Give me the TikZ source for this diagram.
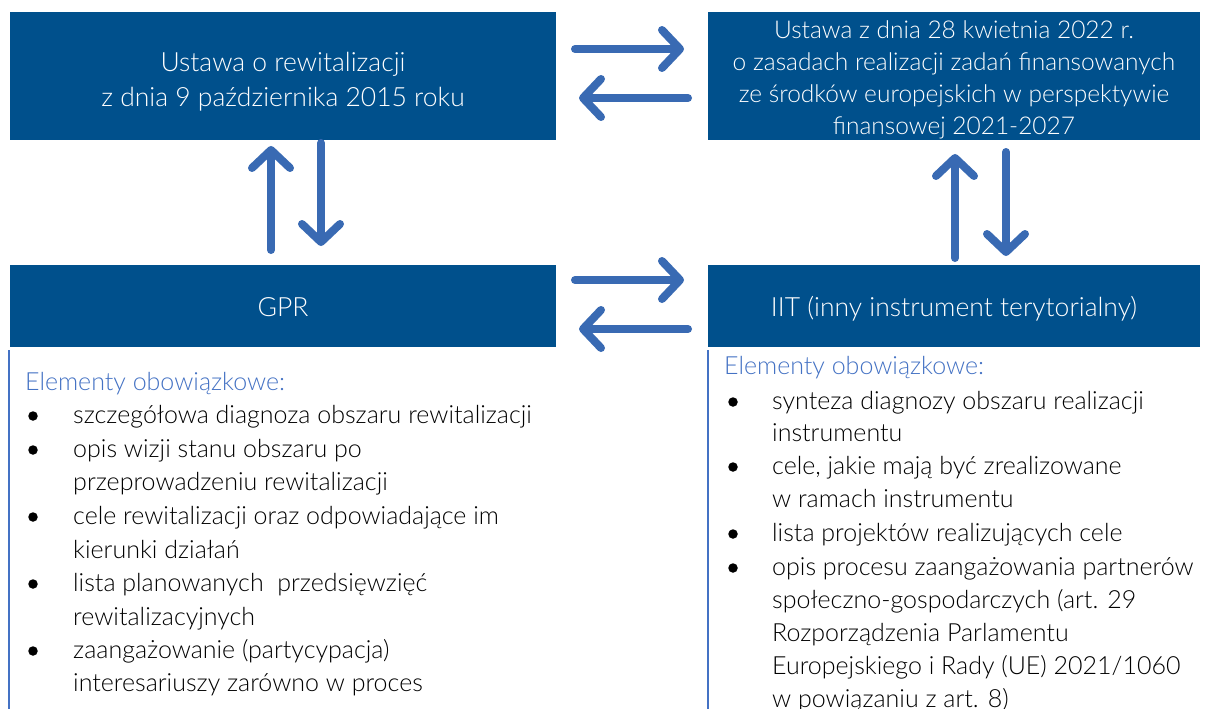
\documentclass[tikz,border=0pt]{standalone}
\usepackage{fontspec}
\setmainfont{Lato Light}
\usetikzlibrary{arrows.meta,calc}
\definecolor{boxblue}{HTML}{00508C}
\definecolor{arrblue}{HTML}{396AB3}
\definecolor{lineblue}{HTML}{4472C4}
\newcommand{\boxtext}[2]{\raisebox{#1}[\height][\depth]{\begin{tabular}{@{}c@{}}#2\end{tabular}}}
\begin{document}
\begin{tikzpicture}[x=1pt,y=-1pt,
  box/.style={fill=boxblue, draw=none, text=white, align=center, inner sep=0pt},
  arr/.style={draw=arrblue, line width=8pt, line cap=round, line join=round,
     -{Straight Barb[round,length=18pt,width=38pt]}},
  lst/.style={anchor=mid west, inner sep=0pt, yshift=-5pt, font=\fontsize{25}{25}\selectfont},
  hd/.style={lst, text=lineblue},
  bul/.style={circle, fill=black, inner sep=0pt, minimum size=9.5pt},
  edge/.style={draw=lineblue, line width=2pt}]
\clip (0,0) rectangle (1208,709);
\fill[white] (0,0) rectangle (1208,709);
% boxes
\node[box, minimum width=546pt, minimum height=128pt, font=\fontsize{26.5}{35}\selectfont] (tl) at (283,76)
  {\boxtext{-6pt}{Ustawa o rewitalizacji\\z dnia 9 października 2015 roku}};
\node[box, minimum width=492pt, minimum height=128pt, font=\fontsize{24.5}{32}\selectfont] (tr) at (954,76)
  {\boxtext{-4pt}{Ustawa z dnia 28 kwietnia 2022 r.\\o zasadach realizacji zadań finansowanych\\ze środków europejskich w perspektywie\\finansowej 2021-2027}};
\node[box, minimum width=546pt, minimum height=82pt, font=\fontsize{26.5}{30}\selectfont] (bl) at (283,306) {\boxtext{-4pt}{GPR}};
\node[box, minimum width=492pt, minimum height=82pt, font=\fontsize{26.5}{30}\selectfont] (br) at (954,306) {\boxtext{-4pt}{IIT (inny instrument terytorialny)}};
% arrow end coordinates
\coordinate (a1s) at (575,49);  \coordinate (a1e) at (684,49);
\coordinate (a2s) at (688,98);  \coordinate (a2e) at (579,98);
\coordinate (a3s) at (575,280); \coordinate (a3e) at (684,280);
\coordinate (a4s) at (688,329); \coordinate (a4e) at (579,329);
\coordinate (v1s) at (271,250); \coordinate (v1e) at (271,146);
\coordinate (v2s) at (321,143); \coordinate (v2e) at (321,246);
\coordinate (v3s) at (955,258); \coordinate (v3e) at (955,154);
\coordinate (v4s) at (1006,152); \coordinate (v4e) at (1006,256);
\draw[arr] (a1s) -- (a1e);
\draw[arr] (a2s) -- (a2e);
\draw[arr] (a3s) -- (a3e);
\draw[arr] (a4s) -- (a4e);
\draw[arr] (v1s) -- (v1e);
\draw[arr] (v2s) -- (v2e);
\draw[arr] (v3s) -- (v3e);
\draw[arr] (v4s) -- (v4e);
% panel edges
\coordinate (le1) at (9,350); \coordinate (le2) at (9,712);
\coordinate (re1) at (708,350); \coordinate (re2) at (708,712);
\draw[edge] (le1) -- (le2);
\draw[edge] (re1) -- (re2);
% left list
\node[hd] (lh) at (25,383) {Elementy obowiązkowe:};
\node[bul] (lb1) at (33,416) {};
\node[lst] (l1) at (73,416) {szczegółowa diagnoza obszaru rewitalizacji};
\node[bul] (lb2) at (33,450) {};
\node[lst] (l2) at (73,450) {opis wizji stanu obszaru po};
\node[lst] (l2b) at (73,483) {przeprowadzeniu rewitalizacji};
\node[bul] (lb3) at (33,517) {};
\node[lst] (l3) at (73,517) {cele rewitalizacji oraz odpowiadające im};
\node[lst] (l3b) at (73,551) {kierunki działań};
\node[bul] (lb4) at (33,584) {};
\node[lst] (l4) at (73,584) {lista planowanych\ \ przedsięwzięć};
\node[lst] (l4b) at (73,618) {rewitalizacyjnych};
\node[bul] (lb5) at (33,651) {};
\node[lst] (l5) at (73,651) {zaangażowanie (partycypacja)};
\node[lst] (l5b) at (73,684) {interesariuszy zarówno w proces};
% right list
\node[hd] (rh) at (724,367) {Elementy obowiązkowe:};
\node[bul] (rb1) at (733,402) {};
\node[lst] (r1) at (772,402) {synteza diagnozy obszaru realizacji};
\node[lst] (r1b) at (772,434) {instrumentu};
\node[bul] (rb2) at (733,467) {};
\node[lst] (r2) at (772,467) {cele, jakie mają być zrealizowane};
\node[lst] (r2b) at (772,500) {w ramach instrumentu};
\node[bul] (rb3) at (733,534) {};
\node[lst] (r3) at (772,534) {lista projektów realizujących cele};
\node[bul] (rb4) at (733,568) {};
\node[lst] (r4) at (772,568) {opis procesu zaangażowania partnerów};
\node[lst] (r4b) at (772,601) {społeczno-gospodarczych (art. 29};
\node[lst] (r4c) at (772,634) {Rozporządzenia Parlamentu};
\node[lst] (r4d) at (772,667) {Europejskiego i Rady (UE) 2021/1060};
\node[lst] (r4e) at (772,700) {w powiązaniu z art. 8)};
\end{tikzpicture}
\end{document}
